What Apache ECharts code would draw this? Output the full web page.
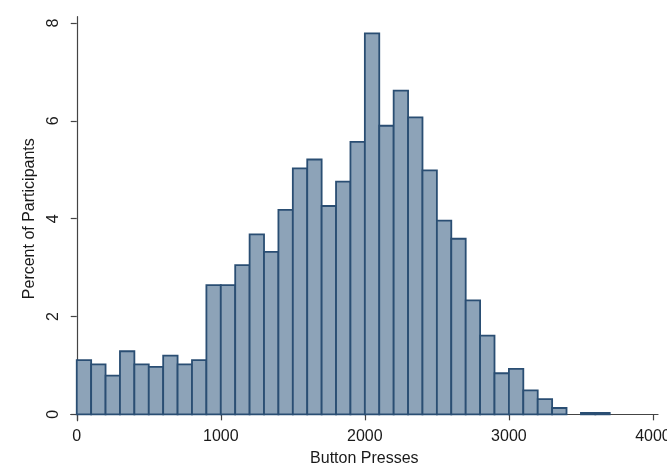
<!DOCTYPE html>
<html>
<head>
<meta charset="utf-8">
<script src="https://cdn.jsdelivr.net/npm/echarts@6/dist/echarts.min.js"></script>
<style>
  html, body { margin: 0; padding: 0; background: #fff; }
  #main { width: 667px; height: 474px; }
</style>
</head>
<body>
<div id="main"></div>
<script>
// lower edge of each 100-press bin
const binStarts = [0, 100, 200, 300, 400, 500, 600, 700, 800, 900,
  1000, 1100, 1200, 1300, 1400, 1500, 1600, 1700, 1800, 1900,
  2000, 2100, 2200, 2300, 2400, 2500, 2600, 2700, 2800, 2900,
  3000, 3100, 3200, 3300, 3400, 3500, 3600]
const binWidth = 100
// percent of participants in each bin
const percents = [1.11, 1.02, 0.79, 1.29, 1.02, 0.97, 1.20, 1.02, 1.11, 2.64,
  2.64, 3.05, 3.68, 3.32, 4.18, 5.03, 5.21, 4.26, 4.76, 5.57,
  7.79, 5.90, 6.62, 6.07, 4.99, 3.96, 3.59, 2.33, 1.61, 0.84,
  0.93, 0.49, 0.31, 0.13, 0, 0.03, 0.03]
const xTicks = [0, 1000, 2000, 3000, 4000]
const yTicks = [0, 2, 4, 6, 8]

const histData = binStarts
  .map((b, i) => [b, percents[i]])
  .filter(d => d[1] > 0)

const axisColor = '#444'
const textColor = '#1a1a1a'
const font = 'Liberation Sans, Arial, sans-serif'

const chart = echarts.init(document.getElementById('main'))
chart.setOption({
  backgroundColor: '#fff',
  animation: false,
  grid: { left: 70.7, right: 9, top: 16.7, bottom: 53.3, containLabel: false, outerBoundsMode: 'none' },
  xAxis: {
    type: 'value',
    min: -42,
    max: 4035,
    name: 'Button Presses',
    nameLocation: 'middle',
    nameGap: 30,
    nameTextStyle: { color: textColor, fontSize: 16, fontFamily: font },
    axisLine: { show: true, lineStyle: { color: axisColor, width: 1.2 } },
    axisTick: { show: true, length: 6, customValues: xTicks, lineStyle: { color: axisColor, width: 1.2 } },
    axisLabel: {
      customValues: xTicks,
      formatter: v => String(v),
      margin: 8, color: textColor, fontSize: 16, fontFamily: font
    },
    splitLine: { show: false }
  },
  yAxis: {
    type: 'value',
    min: -0.13,
    max: 8.13,
    name: 'Percent of Participants',
    nameLocation: 'middle',
    nameGap: 27,
    nameTextStyle: { color: textColor, fontSize: 16, fontFamily: font },
    axisLine: { show: true, lineStyle: { color: axisColor, width: 1.2 } },
    axisTick: { show: true, length: 6, customValues: yTicks, lineStyle: { color: axisColor, width: 1.2 } },
    axisLabel: {
      customValues: yTicks,
      formatter: v => String(v),
      rotate: 90, margin: 9, color: textColor, fontSize: 16, fontFamily: font
    },
    splitLine: { show: false }
  },
  series: [{
    type: 'custom',
    data: histData,
    renderItem: function (params, api) {
      const x0 = api.value(0)
      const pct = api.value(1)
      const topLeft = api.coord([x0, pct])
      const bottomRight = api.coord([x0 + binWidth, 0])
      return {
        type: 'rect',
        shape: {
          x: topLeft[0],
          y: topLeft[1],
          width: bottomRight[0] - topLeft[0],
          height: bottomRight[1] - topLeft[1]
        },
        style: { fill: '#8da3b8', stroke: '#2a4e73', lineWidth: 1.8 }
      }
    }
  }]
})
</script>
</body>
</html>
